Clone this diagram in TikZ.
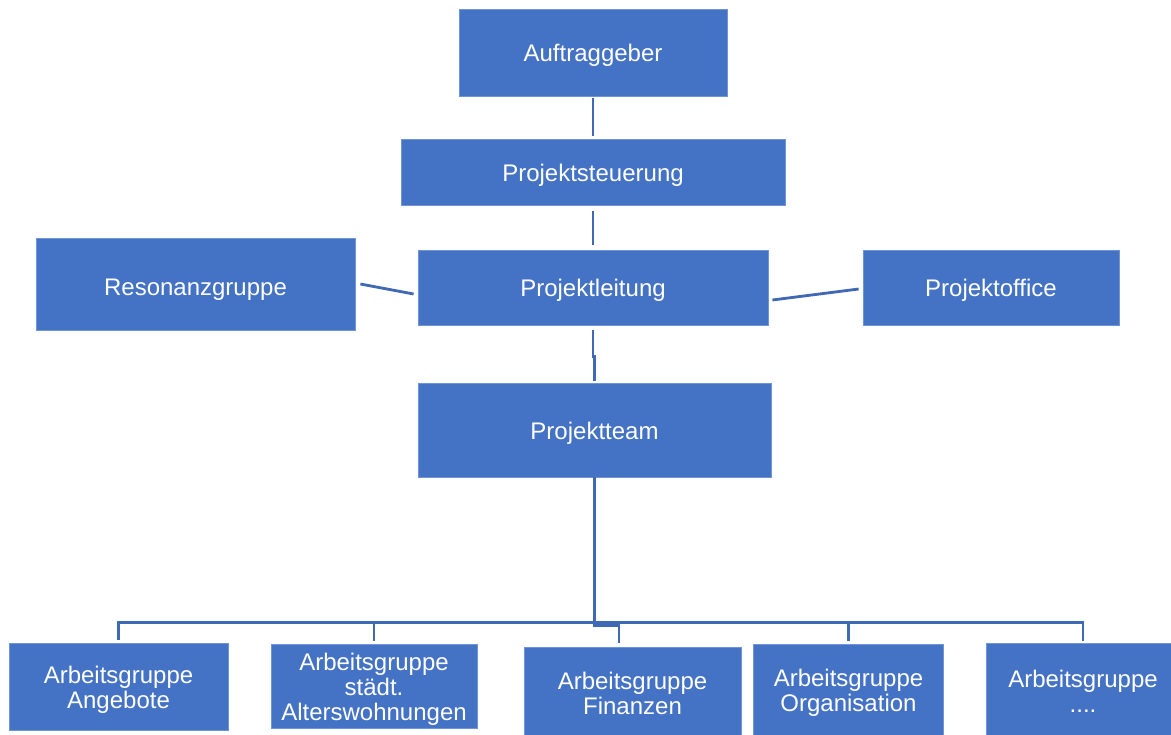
\documentclass[tikz,border=0pt]{standalone}
\usepackage{fontspec}
\setmainfont{Liberation Sans}
\usetikzlibrary{calc}
\definecolor{orgBlue}{HTML}{4472C4}
\definecolor{orgEdge}{HTML}{7095D6}
\definecolor{orgLine}{HTML}{3F68B5}
\newcommand{\agup}[1]{\rule{0pt}{#1}}
\tikzset{
  orgnode/.style={
    draw=orgEdge, line width=0.4pt, fill=orgBlue, text=white,
    align=center, inner sep=0pt, font=\fontsize{12}{12.5}\selectfont,
    text height=11.5pt, text depth=2.5pt
  },
  agbox/.style={orgnode, text height={}, text depth={}},
  link/.style={draw=orgLine, line width=1.4pt}
}
\begin{document}
\begin{tikzpicture}[x=0.5pt,y=-0.5pt]
  \clip (0,0) rectangle (1171,734);
  \fill[white] (0,0) rectangle (1171,734);
  % upper levels
  \node[orgnode, minimum width=134pt, minimum height=43.5pt] (auftrag) at (593,52.5) {Auftraggeber};
  \node[orgnode, minimum width=192pt, minimum height=33pt] (steuerung) at (593,172.5) {Projektsteuerung};
  \node[orgnode, minimum width=175pt, minimum height=37.5pt] (leitung) at (593,287.5) {Projektleitung};
  \node[orgnode, minimum width=159.5pt, minimum height=46pt, text height=14pt] (resonanz) at (195.5,284) {Resonanzgruppe};
  \node[orgnode, minimum width=128pt, minimum height=37.5pt] (office) at (991,287.5) {Projektoffice};
  \node[orgnode, minimum width=176.5pt, minimum height=47pt] (team) at (594.5,430) {Projektteam};
  % working groups
  \node[agbox, minimum width=109.5pt, minimum height=43.5pt] (agAngebote) at (118.5,686.5) {\agup{11.8pt}Arbeitsgruppe\\Angebote};
  \node[agbox, minimum width=103pt, minimum height=42pt] (agWohnen) at (374,686) {\agup{11.8pt}Arbeitsgruppe\\städt.\\Alterswohnungen};
  \node[agbox, minimum width=108.5pt, minimum height=45pt] (agFinanzen) at (632.5,692) {\agup{9.8pt}Arbeitsgruppe\\Finanzen};
  \node[agbox, minimum width=95pt, minimum height=48pt] (agOrga) at (848.5,692) {\agup{9.8pt}Arbeitsgruppe\\Organisation};
  \node[agbox, minimum width=97pt, minimum height=48.5pt] (agWeitere) at (1083,691.5) {Arbeitsgruppe\\....};
  % connectors
  \draw[link, shorten <=1pt, shorten >=1.5pt] (auftrag.south) -- (steuerung.north);
  \draw[link, shorten <=2.5pt, shorten >=2.5pt] (steuerung.south) -- (leitung.north);
  \draw[link] ($(resonanz.east)+(5,0)$) -- ($(leitung.west)+(-4,6.5)$);
  \draw[link] ($(leitung.east)+(4,12.5)$) -- ($(office.west)+(-4,1.5)$);
  \draw[link, shorten <=2.5pt, shorten >=1pt] (leitung.south) -- ++(0,31) -| (team.north);
  \coordinate (bus) at ($(team.south)+(0,145)$);
  \draw[link] (team.south) -- ++(0,148) coordinate (hub) -| ($(agFinanzen.north)+(-13.5,-4)$);
  \draw[link] ($(agAngebote.north)+(0,-3)$) |- (bus) -| ($(agWeitere.north)+(0,-2)$);
  \draw[link] (bus -| agWohnen.north) -- ($(agWohnen.north)+(0,-3)$);
  \draw[link] (bus -| agOrga.north) -- ($(agOrga.north)+(0,-3)$);
\end{tikzpicture}
\end{document}
